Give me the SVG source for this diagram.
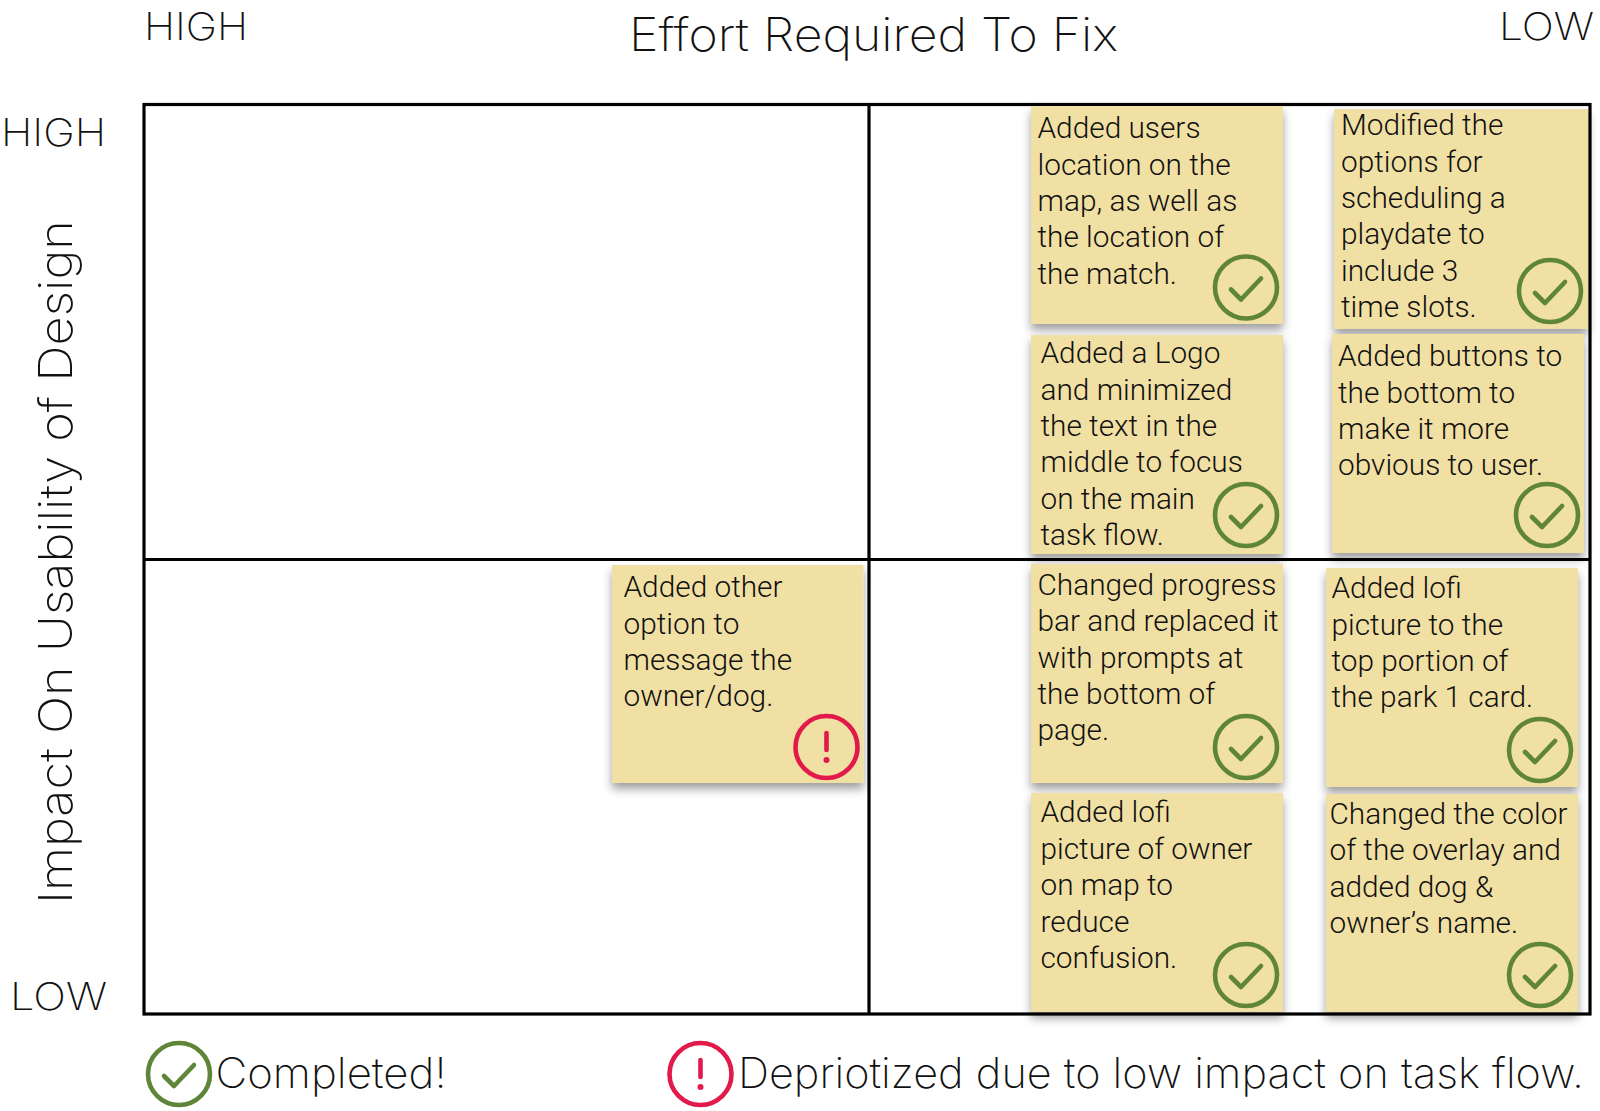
<svg xmlns="http://www.w3.org/2000/svg" width="1600" height="1111" viewBox="0 0 1600 1111">
<style>
.note{fill:#f1e0a3;filter:url(#sh)}
.t{font-family:Roboto,"Liberation Sans",sans-serif;font-weight:300;font-size:29.8px;fill:#111;transform:translateY(-0.8px)}
.h{font-family:Inter,"Open Sans",sans-serif;font-weight:200;fill:#111}
.f{fill:none;stroke:#000;stroke-width:3.2}
.ok{fill:none;stroke:#5f8539;stroke-width:4.6;stroke-linecap:round;stroke-linejoin:round}
.bad{fill:none;stroke:#e2194b;stroke-width:4.6;stroke-linecap:round}
</style>
<defs>
<filter id="sh" x="-15%" y="-10%" width="130%" height="125%"><feDropShadow dx="0" dy="6" stdDeviation="5" flood-color="#000" flood-opacity="0.38"/></filter>
<g id="chk"><circle r="31" class="ok"/><path d="M-15,2 L-5,12 L15,-9" class="ok"/></g>
<g id="exc"><circle r="31" class="bad"/><path d="M0,-14 V3" class="bad"/><circle cy="13" r="3" fill="#e2194b"/></g>
</defs>
<rect width="1600" height="1111" fill="#fff"/>
<g id="axes">
<text class="h" x="144" y="40" font-size="38" textLength="104" lengthAdjust="spacingAndGlyphs">HIGH</text>
<text class="h" x="629" y="51" font-size="46" textLength="489" lengthAdjust="spacingAndGlyphs">Effort Required To Fix</text>
<text class="h" x="1499" y="40" font-size="38" textLength="95" lengthAdjust="spacingAndGlyphs">LOW</text>
<text class="h" x="1" y="146" font-size="38" textLength="105" lengthAdjust="spacingAndGlyphs">HIGH</text>
<text class="h" x="10" y="1010" font-size="38" textLength="97" lengthAdjust="spacingAndGlyphs">LOW</text>
<text class="h" transform="translate(72 904) rotate(-90)" font-size="46" textLength="684" lengthAdjust="spacingAndGlyphs">Impact On Usability of Design</text>
</g>
<g id="frame">
<rect class="f" x="144" y="104.500" width="1446" height="909.500"/>
<path class="f" d="M869,104.500 V1014 M144,559.500 H1590"/>
</g>
<g id="n1"><rect class="note" x="1031" y="106" width="252" height="218"/><text class="t"><tspan x="1037.500" y="139">Added users</tspan><tspan x="1037.500" y="175.500">location on the</tspan><tspan x="1037.500" y="212">map, as well as</tspan><tspan x="1037.500" y="248">the location of</tspan><tspan x="1037.500" y="284.500">the match.</tspan></text><use href="#chk" x="1246" y="287.500"/></g>
<g id="n2"><rect class="note" x="1334" y="109" width="254" height="220"/><text class="t"><tspan x="1341" y="136">Modified the</tspan><tspan x="1341" y="172.500">options for</tspan><tspan x="1341" y="209">scheduling a</tspan><tspan x="1341" y="245">playdate to</tspan><tspan x="1341" y="281.500">include 3</tspan><tspan x="1341" y="318">time slots.</tspan></text><use href="#chk" x="1550" y="291"/></g>
<g id="n3"><rect class="note" x="1031" y="335" width="252" height="219"/><text class="t"><tspan x="1040.500" y="364">Added a Logo</tspan><tspan x="1040.500" y="400.500">and minimized</tspan><tspan x="1040.500" y="437">the text in the</tspan><tspan x="1040.500" y="473">middle to focus</tspan><tspan x="1040.500" y="509.500">on the main</tspan><tspan x="1040.500" y="546">task flow.</tspan></text><use href="#chk" x="1246" y="515"/></g>
<g id="n4"><rect class="note" x="1332" y="334" width="252" height="219"/><text class="t"><tspan x="1338" y="367">Added buttons to</tspan><tspan x="1338" y="403.500">the bottom to</tspan><tspan x="1338" y="440">make it more</tspan><tspan x="1338" y="476">obvious to user.</tspan></text><use href="#chk" x="1547" y="515"/></g>
<g id="n5"><rect class="note" x="1031" y="564" width="252" height="219"/><text class="t"><tspan x="1037.500" y="596">Changed progress</tspan><tspan x="1037.500" y="632">bar and replaced it</tspan><tspan x="1037.500" y="669">with prompts at</tspan><tspan x="1037.500" y="705">the bottom of</tspan><tspan x="1037.500" y="741">page.</tspan></text><use href="#chk" x="1246" y="747"/></g>
<g id="n6"><rect class="note" x="1326" y="568" width="252" height="219"/><text class="t"><tspan x="1331.500" y="599">Added lofi</tspan><tspan x="1331.500" y="635.500">picture to the</tspan><tspan x="1331.500" y="672">top portion of</tspan><tspan x="1331.500" y="708">the park 1 card.</tspan></text><use href="#chk" x="1540" y="750"/></g>
<g id="n7"><rect class="note" x="1031" y="793" width="252" height="219"/><text class="t"><tspan x="1040.500" y="823">Added lofi</tspan><tspan x="1040.500" y="860">picture of owner</tspan><tspan x="1040.500" y="896">on map to</tspan><tspan x="1040.500" y="932.500">reduce</tspan><tspan x="1040.500" y="969">confusion.</tspan></text><use href="#chk" x="1246" y="975"/></g>
<g id="n8"><rect class="note" x="1326" y="794" width="252" height="218"/><text class="t"><tspan x="1329.500" y="825">Changed the color</tspan><tspan x="1329.500" y="861">of the overlay and</tspan><tspan x="1329.500" y="897.500">added dog &amp;</tspan><tspan x="1329.500" y="933.500">owner’s name.</tspan></text><use href="#chk" x="1540" y="975"/></g>
<g id="n9"><rect class="note" x="612" y="565" width="251.500" height="218"/><text class="t"><tspan x="623.500" y="598">Added other</tspan><tspan x="623.500" y="634.500">option to</tspan><tspan x="623.500" y="671">message the</tspan><tspan x="623.500" y="707">owner/dog.</tspan></text><use href="#exc" x="826.500" y="747"/></g>
<g id="legend-completed"><use href="#chk" x="179" y="1074"/><text class="h" x="215.500" y="1088" font-size="42" textLength="231" lengthAdjust="spacingAndGlyphs">Completed!</text></g>
<g id="legend-deprioritized"><use href="#exc" x="700.500" y="1074"/><text class="h" x="738" y="1088" font-size="42" textLength="846" lengthAdjust="spacingAndGlyphs">Depriotized due to low impact on task flow.</text></g>
</svg>
